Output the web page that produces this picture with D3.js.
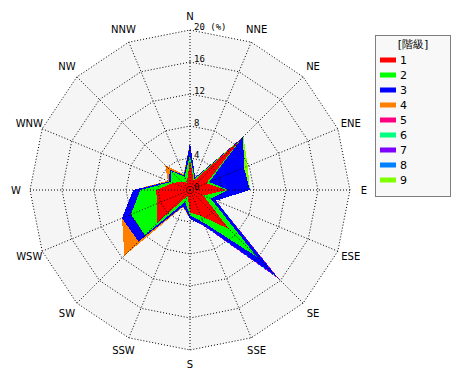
<!DOCTYPE html>
<html lang="ja">
<head>
<meta charset="UTF-8">
<title>風配図</title>
<script src="https://d3js.org/d3.v7.min.js"></script>
<style>
  body { margin: 0; background: #fff; }
  svg text { font-family: "DejaVu Sans", sans-serif; fill: #000; }
  .dir { font-size: 10px; }
  .tick { font-size: 9px; font-family: "DejaVu Sans Mono", monospace; }
  .legend text { font-size: 11px; }
</style>
</head>
<body>
<svg id="rose" width="470" height="380"></svg>
<script>
// 16方位
const directions = ["N","NNE","NE","ENE","E","ESE","SE","SSE","S","SSW","SW","WSW","W","WNW","NW","NNW"];
const classNames = ["1","2","3","4","5","6","7","8","9"];
const classColors = ["#ff0000","#00ff00","#0000ff","#ff8000","#ff0080","#00ff80","#8000ff","#0080ff","#80ff00"];
const ringTicks = [4, 8, 12, 16, 20];

// 階級ごとの出現率 (%) : N, NNE, NE, ... NNW
const class1 = [3.8, 1.2, 9.0, 2.2, 4.6, 1.8, 6.9, 3.5, 2.8, 0.8, 5.9, 4.5, 4.2, 2.3, 1.5, 1.0];
const class2 = [0.5, 0.3, 0.1, 0.4, 0.2, 1.0, 4.9, 0.9, 0.4, 0.8, 2.1, 3.5, 2.0, 0.3, 1.9, 0.8];
const class3 = [1.6, 0.2, 0.3, 4.7, 2.7, 0.7, 3.5, 0.5, 0.4, 0.6, 1.1, 1.2, 0.9, 0.2, 0.2, 0.2];
const class4 = [0, 0, 0, 0, 0, 0, 0, 0, 0, 0.1, 2.5, 0, 0, 0.2, 0.8, 0.1];
const class5 = [0, 0, 0, 0, 0, 0, 0.05, 0, 0, 0, 0, 0, 0, 0, 0, 0];
const class6 = [0, 0, 0, 0, 0, 0, 0.05, 0, 0, 0, 0, 0, 0, 0, 0, 0];
const class7 = [0, 0, 0, 0, 0, 0, 0.4, 0.1, 0, 0, 0, 0, 0, 0, 0, 0];
const class8 = [0, 0, 0, 0, 0, 0, 0, 0, 0, 0, 0, 0, 0, 0, 0, 0];
const class9 = [0, 0, 0.05, 0.5, 0, 0, 0, 0, 0, 0, 0, 0, 0, 0, 0, 0];
const series = [class1, class2, class3, class4, class5, class6, class7, class8, class9];

const cx = 190, cy = 190, outer = 160;

const svg = d3.select("#rose");
const g = svg.append("g").attr("transform", "translate(" + cx + "," + cy + ")");

const r = d3.scaleLinear().domain([0, 20]).range([0, outer]);
const angle = d3.scaleLinear().domain([0, directions.length]).range([0, 2 * Math.PI]);

// 積み上げ (累積)
const stacked = [];
series.forEach((s, k) => {
  stacked.push(s.map((v, i) => v + (k > 0 ? stacked[k - 1][i] : 0)));
});

const radial = d3.lineRadial()
  .angle((d, i) => angle(i))
  .radius(d => r(d))
  .curve(d3.curveLinearClosed);

// 背景
g.append("path")
  .attr("d", radial(directions.map(() => 20)))
  .attr("fill", "#f5f5f5");

// 外側の階級から描く
for (let k = stacked.length - 1; k >= 0; k--) {
  g.append("path")
    .attr("d", radial(stacked[k]))
    .attr("fill", classColors[k])
    .attr("shape-rendering", "crispEdges");
}

// 目盛りの多角形
ringTicks.forEach(t => {
  g.append("path")
    .attr("d", radial(directions.map(() => t)))
    .attr("fill", "none")
    .attr("stroke", "#000")
    .attr("stroke-width", 1)
    .attr("stroke-dasharray", "1,2");
});

// 放射線
directions.forEach((d, i) => {
  const a = angle(i);
  g.append("line")
    .attr("x1", 0).attr("y1", 0)
    .attr("x2", r(20) * Math.sin(a))
    .attr("y2", -r(20) * Math.cos(a))
    .attr("stroke", "#000")
    .attr("stroke-dasharray", "1,2");
  g.append("text")
    .attr("class", "dir")
    .attr("x", 174 * Math.sin(a))
    .attr("y", -174 * Math.cos(a))
    .attr("text-anchor", "middle")
    .attr("dominant-baseline", "central")
    .text(d);
});

// 目盛りラベル
[0].concat(ringTicks).forEach(t => {
  g.append("text")
    .attr("class", "tick")
    .attr("x", 4)
    .attr("y", -r(t))
    .text(t === 20 ? "20 (%)" : t);
});

// 凡例
const legend = svg.append("g").attr("class", "legend");
legend.append("rect")
  .attr("x", 375.5).attr("y", 35.5)
  .attr("width", 75).attr("height", 161)
  .attr("fill", "#f8f8f8")
  .attr("stroke", "#000")
  .attr("stroke-dasharray", "1,1");
legend.append("text")
  .attr("x", 413).attr("y", 44)
  .attr("text-anchor", "middle")
  .attr("dominant-baseline", "central")
  .text("[階級]");
classNames.forEach((c, i) => {
  const y = 60 + i * 15;
  legend.append("rect")
    .attr("x", 380).attr("y", y - 2.5)
    .attr("width", 16).attr("height", 5)
    .attr("fill", classColors[i]);
  legend.append("text")
    .attr("x", 400).attr("y", y)
    .attr("dominant-baseline", "central")
    .text(c);
});
</script>
</body>
</html>
